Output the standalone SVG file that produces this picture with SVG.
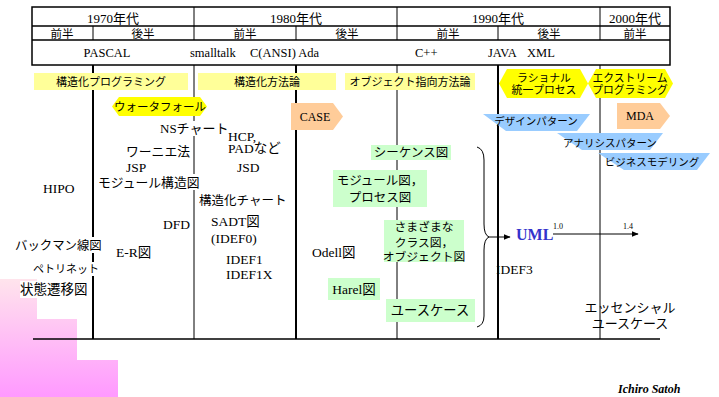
<svg xmlns="http://www.w3.org/2000/svg" width="719" height="397" viewBox="0 0 719 397">
<defs>
<linearGradient id="pink" x1="0" y1="279" x2="0" y2="397" gradientUnits="userSpaceOnUse">
<stop offset="0" stop-color="#FFE4EC"/>
<stop offset="1" stop-color="#FF99FF"/>
</linearGradient>
<marker id="ah" viewBox="0 0 10 10" refX="9" refY="5" markerWidth="7" markerHeight="7" orient="auto" markerUnits="userSpaceOnUse">
<path d="M0,1 L10,5 L0,9 Z" fill="#000"/>
</marker>
<style>
.jp{font-family:"Noto Sans CJK JP","Noto Sans",sans-serif;fill:#000}
.sf{font-family:"Liberation Serif","Noto Sans CJK JP",serif;fill:#000}
.yb{fill:#FFFF99}
.yh{fill:#FFFF00}
.or{fill:#FFCC99}
.bl{fill:#99CCFF}
.gr{fill:#CCFFCC}
.wb{fill:#FFFFFF}
.thick{stroke:#000;stroke-width:2;fill:none}
.thin{stroke:#000;stroke-width:1;fill:none}
.tb{stroke:#000;stroke-width:1.5;fill:none}
</style>
</defs>
<rect width="719" height="397" fill="#fff"/>
<path d="M0,279 H37 V319 H77 V360 H118 V397 H0 Z" fill="url(#pink)"/>

<g id="table">
<rect x="32" y="7" width="638" height="58" class="tb"/>
<path d="M32,26 H670 M32,40 H670" class="tb"/>
<path d="M194,7 V40 M397,7 V40 M600,7 V40 M93,26 V40 M296,26 V40 M498,26 V40" class="thin"/>
<g class="sf" font-size="13" text-anchor="middle">
<text x="113" y="22.5">1970年代</text>
<text x="296" y="22.5">1980年代</text>
<text x="498" y="22.5">1990年代</text>
<text x="635" y="22.5">2000年代</text>
</g>
<g class="jp" font-size="11.5" text-anchor="middle">
<text x="62" y="38">前半</text>
<text x="143" y="38">後半</text>
<text x="245" y="38">前半</text>
<text x="347" y="38">後半</text>
<text x="448" y="38">前半</text>
<text x="549" y="38">後半</text>
<text x="635" y="38">前半</text>
</g>
<g class="sf" font-size="12.5">
<text x="107" y="57" text-anchor="middle">PASCAL</text>
<text x="190" y="57">smalltalk</text>
<text x="250" y="57">C(ANSI) Ada</text>
<text x="415" y="57">C++</text>
<text x="488" y="57">JAVA</text>
<text x="527" y="57">XML</text>
</g>
</g>

<g id="grid">
<path d="M93,65 V339 M296,65 V339 M498,65 V339" class="thick"/>
<path d="M194,65 V339 M397,65 V339 M600,65 V339" class="thin"/>
<path d="M33,339 H660" class="tb"/>
</g>

<g id="era-labels">
<rect x="34" y="73" width="154" height="17" class="yb"/>
<text x="111" y="86" class="jp" font-size="11" text-anchor="middle">構造化プログラミング</text>
<rect x="198" y="73" width="138" height="17" class="yb"/>
<text x="267" y="86" class="jp" font-size="11" text-anchor="middle">構造化方法論</text>
<rect x="345" y="73" width="130" height="17" class="yb"/>
<text x="410" y="86" class="jp" font-size="11" text-anchor="middle">オブジェクト指向方法論</text>
</g>

<g id="waterfall">
<polygon points="112,106.5 119,97 200,97 207,106.5 200,116 119,116" class="yh"/>
<text x="160" y="110.5" class="jp" font-size="11.5" text-anchor="middle">ウォータフォール</text>
</g>
<g id="rup">
<polygon points="499,83.5 507,69 580,69 588,83.5 580,98 507,98" class="yh"/>
<text x="544" y="81.5" class="jp" font-size="10.8" text-anchor="middle">ラショナル</text>
<text x="544" y="94" class="jp" font-size="10.8" text-anchor="middle">統一プロセス</text>
</g>
<g id="xp">
<polygon points="588,83.5 596,69 665,69 673,83.5 665,98 596,98" class="yh"/>
<text x="630" y="81.5" class="jp" font-size="10.8" text-anchor="middle">エクストリーム</text>
<text x="630" y="94" class="jp" font-size="10.8" text-anchor="middle">プログラミング</text>
</g>
<g id="case">
<polygon points="291,103 333,103 343,116.5 333,130 291,130" class="or"/>
<text x="315" y="121" class="sf" font-size="12" text-anchor="middle">CASE</text>
</g>
<g id="mda">
<polygon points="617,103 660,103 670,116 660,129 617,129" class="or"/>
<text x="640" y="120" class="sf" font-size="12" text-anchor="middle">MDA</text>
</g>
<g id="design-pattern">
<polygon points="483,114 590,114 577,131 506,131" class="bl"/>
<text x="536" y="124.5" class="jp" font-size="10.5" text-anchor="middle">デザインパターン</text>
</g>
<g id="analysis-pattern">
<polygon points="557,133 663,133 650,150 582,150" class="bl"/>
<text x="610" y="147" class="jp" font-size="10.5" text-anchor="middle">アナリシスパターン</text>
</g>
<g id="business-modeling">
<polygon points="598,153 710,153 697,170 624,170" class="bl"/>
<text x="652" y="166" class="jp" font-size="10.5" text-anchor="middle">ビジネスモデリング</text>
</g>

<g id="structured">
<rect x="160" y="121" width="64" height="15" class="wb"/>
<text x="160" y="133" class="sf" font-size="13">NSチャート</text>
<text x="228" y="141" class="sf" font-size="13.5">HCP,</text>
<text x="228" y="153" class="sf" font-size="13.5">PADなど</text>
<text x="126" y="156" class="jp" font-size="12.8">ワーニエ法</text>
<text x="126" y="172" class="sf" font-size="13.5">JSP</text>
<text x="237" y="172" class="sf" font-size="13.5">JSD</text>
<rect x="98" y="174" width="104" height="16" class="wb"/>
<text x="98" y="187" class="jp" font-size="12.8">モジュール構造図</text>
<text x="43" y="193" class="sf" font-size="13.5">HIPO</text>
<text x="199" y="205" class="jp" font-size="12.5">構造化チャート</text>
<text x="211" y="226" class="sf" font-size="13.5">SADT図</text>
<text x="163" y="229" class="sf" font-size="13.5">DFD</text>
<text x="211" y="243" class="sf" font-size="13.5">(IDEF0)</text>
<rect x="15" y="237" width="87" height="16" class="wb"/>
<text x="15" y="250" class="jp" font-size="12.4">バックマン線図</text>
<text x="116" y="257" class="sf" font-size="13.5">E-R図</text>
<text x="226" y="264" class="sf" font-size="13.5">IDEF1</text>
<text x="226" y="279" class="sf" font-size="13.5">IDEF1X</text>
<rect x="33" y="262" width="65" height="14" class="wb"/>
<text x="33" y="273" class="jp" font-size="11">ペトリネット</text>
<rect x="20" y="281" width="69" height="17" class="wb"/>
<text x="20" y="294" class="jp" font-size="13.5">状態遷移図</text>
</g>

<g id="oo">
<rect x="371" y="145" width="80" height="15" class="gr"/>
<text x="411" y="157" class="jp" font-size="12.5" text-anchor="middle">シーケンス図</text>
<rect x="333" y="170" width="94" height="37" class="gr"/>
<text x="380" y="185" class="jp" font-size="12.5" text-anchor="middle">モジュール図，</text>
<text x="380" y="202" class="jp" font-size="12.5" text-anchor="middle">プロセス図</text>
<rect x="384" y="220" width="80" height="42" class="gr"/>
<text x="424" y="230.5" class="jp" font-size="11.8" text-anchor="middle">さまざまな</text>
<text x="424" y="246.5" class="jp" font-size="11.8" text-anchor="middle">クラス図，</text>
<text x="424" y="260.5" class="jp" font-size="11.8" text-anchor="middle">オブジェクト図</text>
<text x="312" y="257" class="sf" font-size="13.5">Odell図</text>
<rect x="328" y="278" width="52" height="22" class="gr"/>
<text x="354" y="294" class="sf" font-size="13.5" text-anchor="middle">Harel図</text>
<rect x="386" y="299" width="89" height="23" class="gr"/>
<text x="430" y="315" class="jp" font-size="13.3" text-anchor="middle">ユースケース</text>
</g>

<g id="uml">
<text x="516" y="239.5" font-family="Liberation Serif, serif" font-weight="bold" font-size="16" fill="#3333CC">UML</text>
<text x="553" y="229" class="sf" font-size="8">1.0</text>
<text x="623" y="229" class="sf" font-size="8">1.4</text>
<text x="496" y="273.5" class="sf" font-size="13.5">IDEF3</text>
</g>

<g id="essential-usecase">
<text x="630" y="312" class="jp" font-size="13" text-anchor="middle">エッセンシャル</text>
<text x="630" y="328" class="jp" font-size="13" text-anchor="middle">ユースケース</text>
</g>

<g id="connectors">
<path d="M477,147 Q484,149 484,160 V224 Q484,235 489,237 Q484,239 484,250 V316 Q484,325 477,327" class="thin"/>
<path d="M489,237 H510" class="thin" marker-end="url(#ah)"/>
<path d="M553,234 H638" class="thin" marker-end="url(#ah)"/>
</g>

<text x="618" y="393" font-family="Liberation Serif, serif" font-weight="bold" font-style="italic" font-size="12" fill="#000">Ichiro Satoh</text>
</svg>
